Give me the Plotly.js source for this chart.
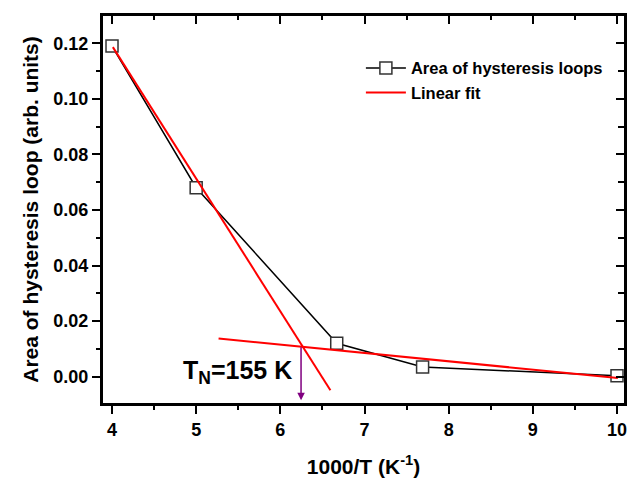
<!DOCTYPE html>
<html>
<head>
<meta charset="utf-8">
<script src="https://cdn.plot.ly/plotly-3.0.1.min.js"></script>
<style>
html,body{margin:0;padding:0;background:#fff;}
#chart{width:629px;height:478px;}
#chart .xtick text, #chart .ytick text {font-weight:700 !important;}
</style>
</head>
<body>
<div id="chart"></div>
<script>
// Data
const invT = [4, 5, 6.67, 7.69, 10];
const loopArea = [0.119, 0.068, 0.012, 0.0035, 0.0003];
const fitHighX = [4.01, 6.595];
const fitHighY = [0.1186, -0.0049];
const fitLowX = [5.266, 10.01];
const fitLowY = [0.01375, -0.0005];
const tnX = 6.246;
const tnArrowY = [0.0111, -0.0085];
const tnLabel = 'T<sub>N</sub>=155 K';
const xTickVals = [4, 5, 6, 7, 8, 9, 10];
const xTickText = ['4', '5', '6', '7', '8', '9', '10'];
const yTickVals = [0, 0.02, 0.04, 0.06, 0.08, 0.10, 0.12];
const yTickText = ['0.00', '0.02', '0.04', '0.06', '0.08', '0.10', '0.12'];

const FONT = 'Arial, "Liberation Sans", sans-serif';
const xRange = [3.893, 10.083];
const yRange = [-0.00947, 0.1298];
const bold = arr => arr.map(t => '<b>' + t + '</b>');

const traces = [
  {
    x: invT, y: loopArea, type: 'scatter', mode: 'lines+markers',
    name: '<b>Area of hysteresis loops</b>',
    line: {color: '#000', width: 1.5},
    marker: {symbol: 'square', size: 12, color: '#fff', line: {color: '#333', width: 1.5}}
  },
  {
    x: fitHighX, y: fitHighY, type: 'scatter', mode: 'lines',
    name: '<b>Linear fit</b>',
    line: {color: '#ff0000', width: 2}
  },
  {
    x: fitLowX, y: fitLowY, type: 'scatter', mode: 'lines',
    name: 'Linear fit 2', showlegend: false,
    line: {color: '#ff0000', width: 2}
  }
];

const layout = {
  width: 629, height: 478,
  margin: {l: 103, r: 5, t: 16, b: 75},
  paper_bgcolor: '#fff', plot_bgcolor: '#fff',
  font: {family: FONT, color: '#000'},
  showlegend: true,
  legend: {
    x: 0.495, y: 0.91, xanchor: 'left', yanchor: 'top',
    bgcolor: 'rgba(0,0,0,0)', font: {family: FONT, size: 16.5, color: '#000'},
    tracegroupgap: 0, itemwidth: 40
  },
  xaxis: {
    range: xRange, tickmode: 'array', tickvals: xTickVals, ticktext: bold(xTickText),
    showgrid: false, zeroline: false,
    showline: true, linecolor: '#000', linewidth: 3,
    ticks: 'outside', ticklen: 8, tickwidth: 2, tickcolor: '#000',
    minor: {dtick: 0.5, tick0: 0, ticks: 'outside', ticklen: 4, tickwidth: 2, tickcolor: '#000'},
    tickfont: {family: FONT, size: 18, color: '#000', weight: 700},
    title: {text: '<b>1000/T (K<sup>-1</sup>)</b>', font: {family: FONT, size: 21, color: '#000'}, standoff: 21}
  },
  yaxis: {
    range: yRange, tickmode: 'array', tickvals: yTickVals, ticktext: bold(yTickText),
    showgrid: false, zeroline: false,
    showline: true, linecolor: '#000', linewidth: 3,
    ticks: 'outside', ticklen: 8, tickwidth: 2, tickcolor: '#000',
    minor: {dtick: 0.01, tick0: 0, ticks: 'outside', ticklen: 4, tickwidth: 2, tickcolor: '#000'},
    tickfont: {family: FONT, size: 18, color: '#000', weight: 700},
    title: {text: '<b>Area of hysteresis loop (arb. units)</b>', font: {family: FONT, size: 21, color: '#000'}, standoff: 10}
  },
  xaxis2: {
    overlaying: 'x', side: 'top', anchor: 'y', matches: 'x', range: xRange,
    dtick: 1, tick0: 0, showgrid: false, zeroline: false,
    showline: true, linecolor: '#000', linewidth: 3,
    ticks: 'inside', ticklen: 8, tickwidth: 2, tickcolor: '#000',
    minor: {dtick: 0.5, ticks: 'inside', ticklen: 4, tickwidth: 2, tickcolor: '#000'},
    showticklabels: false
  },
  yaxis2: {
    overlaying: 'y', side: 'right', anchor: 'x', matches: 'y', range: yRange,
    dtick: 0.02, tick0: 0, showgrid: false, zeroline: false,
    showline: true, linecolor: '#000', linewidth: 3,
    ticks: 'inside', ticklen: 8, tickwidth: 2, tickcolor: '#000',
    minor: {dtick: 0.01, ticks: 'inside', ticklen: 6, tickwidth: 2, tickcolor: '#000'},
    showticklabels: false
  },
  annotations: [
    {
      x: tnX, y: tnArrowY[1], ax: tnX, ay: tnArrowY[0], axref: 'x', ayref: 'y',
      xref: 'x', yref: 'y', text: '', showarrow: true,
      arrowhead: 2, arrowsize: 1, arrowwidth: 1.5, arrowcolor: '#800080', standoff: 0, startstandoff: 0
    },
    {
      x: 5.49, y: 0.0018, xref: 'x', yref: 'y', xanchor: 'center', yanchor: 'middle',
      text: '<b>' + tnLabel + '</b>', showarrow: false,
      font: {family: FONT, size: 25, color: '#000'}
    }
  ]
};

// invisible helper trace so the mirrored top/right axes are drawn
traces.push({x: xRange, y: yRange, xaxis: 'x2', yaxis: 'y2', mode: 'markers', marker: {opacity: 0}, showlegend: false, hoverinfo: 'skip'});

Plotly.newPlot('chart', traces, layout, {staticPlot: true, displayModeBar: false});
</script>
</body>
</html>
